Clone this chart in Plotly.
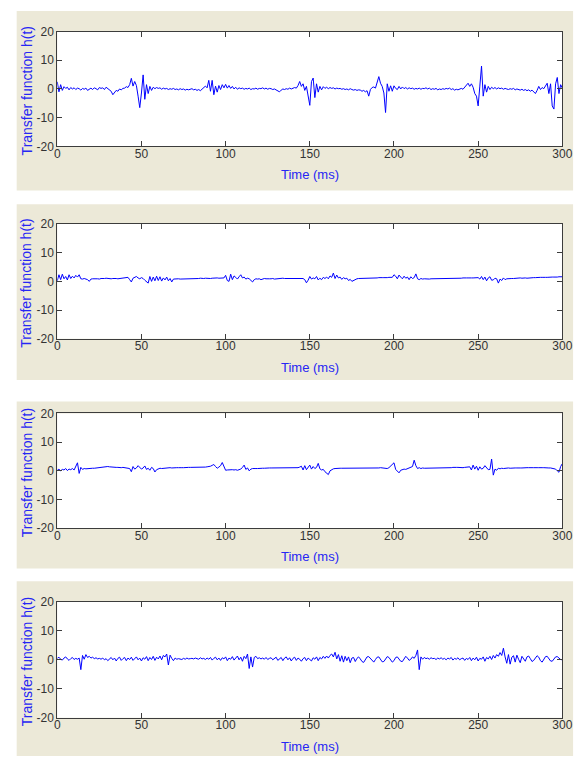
import plotly.graph_objects as go

# Time axis: one sample per millisecond, 0..300 ms
dt_ms = 1.0

# Transfer function h(t) for the four channels
h1 = [
    2.5, -1.0, 1.5, -0.5, 0.8, 0.2, 0.6, -0.3, 0.5, 0.0,
    0.4, -0.2, 0.3, 0.1, -0.4, 0.2, -0.1, 0.3, -0.5, 0.0,
    0.3, -0.2, 0.4, 0.1, -0.3, 0.5, 0.2, 0.4, -0.2, 0.6,
    0.1, -0.4, -0.8, -2.0, -1.2, -0.5, -0.8, 0.0, -0.3, 0.2,
    0.3, 0.8, 0.5, 1.5, 3.7, 1.0, 2.6, 1.2, -2.5, -6.5,
    -1.4, 4.9, -3.6, 1.5, -1.6, 0.9, -0.5, 0.6, 0.1, 0.5,
    0.2, 0.4, -0.1, 0.3, 0.0, 0.2, -0.2, 0.1, -0.1, 0.2,
    -0.2, 0.0, -0.3, 0.1, -0.2, 0.0, -0.4, -0.1, -0.3, -0.2,
    0.1, -0.3, -0.1, -0.5, -0.2, -0.6, -0.1, 0.6, 1.0, 0.4,
    3.0, -0.8, 3.0, -2.0, 1.0, -1.1, 1.2, -0.2, 1.5, 0.4,
    1.6, 0.3, 1.2, 0.2, 0.9, 0.0, 0.6, -0.1, 0.4, 0.1,
    0.3, -0.1, 0.2, 0.0, 0.3, -0.2, 0.1, 0.0, 0.3, -0.1,
    0.2, 0.1, 0.4, 0.0, 0.3, -0.1, 0.2, 0.1, -0.2, 0.0,
    -0.3, -0.5, -1.0, -0.4, 0.0, -0.2, 0.1, -0.1, 0.3, 0.0,
    0.2, 0.5, 0.3, 1.2, 2.6, 0.9, 1.8, -0.5, 0.9, -2.5,
    -5.7, 2.6, 3.8, -3.0, 1.8, -1.1, 0.9, -0.3, 0.8, 0.2,
    0.6, 0.1, 0.5, 0.2, 0.4, 0.0, 0.3, 0.1, 0.2, -0.1,
    0.1, -0.2, 0.0, -0.3, 0.1, -0.2, -0.4, -0.2, -0.5, -0.3,
    -0.4, -0.8, -0.5, -1.0, -0.6, -2.5, -0.2, 0.5, 0.7, 0.3,
    2.6, 4.3, 2.0, 0.9, -1.4, -8.2, 1.8, -0.8, 1.1, -0.8,
    1.1, 0.2, -0.2, 0.9, 0.0, 0.7, 0.1, 0.5, 0.0, 0.4,
    0.1, 0.3, -0.1, 0.2, 0.0, 0.3, -0.1, 0.2, 0.1, 0.4,
    0.0, 0.3, -0.2, 0.1, -0.1, 0.2, -0.3, 0.0, -0.2, 0.1,
    -0.1, 0.2, 0.0, 0.3, -0.2, 0.1, -0.4, -0.1, -0.3, 0.0,
    0.2, -0.1, 0.5, 1.1, 2.0, 0.9, 1.8, 0.6, -1.6, -2.5,
    -5.9, 1.0, 8.0, -2.5, 1.5, -1.1, 0.9, -0.2, 0.6, 0.1,
    0.5, 0.0, 0.4, 0.1, 0.3, -0.1, 0.2, 0.0, -0.2, 0.1,
    -0.1, 0.2, -0.3, 0.0, -0.2, -0.4, -0.1, -0.5, -0.2, -0.6,
    -0.3, -0.8, -0.4, -1.0, -1.6, -0.5, 0.9, -0.2, 0.5, 0.1,
    1.1, 2.0, -1.6, 1.8, -5.9, -7.0, 1.8, 4.0, -1.6, 1.5,
    0.3,
]

h2 = [
    0.2, 2.3, 0.6, 2.5, 0.9, 1.7, 0.5, 2.3, 1.0, 1.8,
    1.2, 2.1, 1.5, 2.3, 0.9, 0.8, 1.0, 0.9, 0.6, 0.0,
    0.8, 0.9, 0.8, 0.9, 0.9, 0.8, 1.0, 0.9, 1.0, 1.1,
    1.0, 1.1, 0.9, 1.0, 1.1, 1.0, 0.9, 1.0, 1.1, 1.2,
    1.4, 1.3, 1.4, 0.6, -0.2, 1.1, 1.3, 1.7, 1.2, 0.9,
    1.3, 1.0, 0.4, 0.0, -0.6, 1.7, 0.0, 1.5, 0.2, 1.8,
    0.3, 1.6, 0.1, 1.2, 0.5, 1.5, 0.2, 1.0, -0.2, 0.8,
    0.9, 1.0, 0.9, 0.8, 0.8, 0.9, 0.8, 0.9, 0.9, 1.0,
    0.9, 1.0, 1.0, 0.9, 1.0, 1.1, 1.0, 1.0, 1.1, 1.0,
    1.1, 1.0, 1.1, 1.2, 1.1, 1.2, 1.1, 1.2, 1.3, 1.2,
    2.1, 0.3, 0.0, 2.5, 0.6, 1.9, 1.4, 0.8, 1.6, 2.3,
    1.2, 1.5, 0.8, 1.1, 0.9, 0.2, -0.2, 0.6, 0.9, 0.8,
    0.9, 0.6, 0.8, 1.0, 0.9, 0.8, 0.9, 0.9, 1.0, 0.8,
    0.9, 1.0, 0.9, 1.0, 1.1, 1.0, 1.0, 0.9, 1.0, 1.1,
    1.0, 1.1, 1.0, 1.1, 1.0, 0.9, 1.0, 0.6, -0.5, 0.4,
    1.7, 0.8, 1.2, 0.9, 1.7, 0.5, 1.1, 0.6, 1.4, 1.0,
    1.5, 0.9, 1.9, 1.4, 2.9, 1.0, 2.2, 1.2, 1.5, 0.7,
    1.3, 0.9, 1.1, 0.3, 0.7, 0.0, 0.3, 0.8, 0.9, 1.0,
    1.0, 1.1, 1.0, 1.1, 1.1, 1.2, 1.1, 1.2, 1.2, 1.1,
    1.2, 1.3, 1.2, 1.3, 1.3, 1.2, 1.3, 1.4, 1.3, 1.4,
    2.3, 1.8, 0.9, 2.2, 1.5, 0.9, 1.8, 1.1, 1.5, 0.6,
    1.6, 1.0, 1.3, 2.6, 0.9, 0.6, 1.0, 0.8, 0.9, 0.8,
    0.9, 0.8, 0.9, 0.9, 1.0, 0.9, 0.9, 1.0, 0.9, 1.0,
    1.0, 1.0, 1.1, 1.0, 1.0, 1.1, 1.1, 1.0, 1.1, 1.1,
    1.1, 1.2, 1.1, 1.2, 1.2, 1.1, 1.2, 1.2, 1.3, 1.2,
    1.3, 0.8, 1.7, 0.6, 1.5, 0.2, 1.2, 1.6, 0.4, 0.5,
    1.1, 0.9, -0.6, 0.8, 0.3, 1.2, 0.6, 0.9, 1.0, 0.9,
    1.0, 1.0, 1.1, 1.0, 1.1, 1.2, 1.1, 1.2, 1.2, 1.1,
    1.2, 1.3, 1.2, 1.3, 1.3, 1.4, 1.3, 1.4, 1.4, 1.3,
    1.4, 1.4, 1.5, 1.4, 1.5, 1.5, 1.4, 1.5, 1.6, 1.5,
    1.6,
]

h3 = [
    0.2, 0.6, 0.0, 0.5, 0.3, 0.8, 0.1, 0.6, 0.4, 0.8,
    0.3, 1.6, 2.8, -0.9, 1.2, 0.5, 0.8, 0.7, 0.8, 0.8,
    0.8, 0.9, 0.9, 1.0, 1.1, 1.1, 1.2, 1.3, 1.5, 1.6,
    1.5, 1.4, 1.3, 1.4, 1.3, 1.2, 1.2, 1.1, 1.1, 1.2,
    1.1, 1.2, 1.1, 0.8, -0.3, 1.5, 0.6, 1.0, 1.8, 1.3,
    0.6, 1.0, 1.7, 0.5, 0.9, 0.2, 1.2, 0.8, -0.4, 0.4,
    0.6, 0.9, 0.8, 0.9, 1.0, 0.9, 1.0, 1.1, 1.0, 1.1,
    1.0, 1.1, 1.1, 1.0, 1.1, 1.1, 1.2, 1.1, 1.2, 1.2,
    1.2, 1.1, 1.2, 1.3, 1.2, 1.3, 1.3, 1.2, 1.3, 1.4,
    1.4, 1.6, 1.9, 2.2, 1.5, 0.9, 1.3, 1.8, 2.9, 1.5,
    0.2, 0.3, 0.4, 0.5, 0.4, 0.3, 0.4, 0.2, 0.4, 0.6,
    1.2, 2.0, 0.5, 1.0, 0.0, 0.6, 0.8, 0.7, 0.8, 0.8,
    0.9, 0.8, 0.9, 0.9, 1.0, 0.9, 1.0, 1.0, 1.0, 1.1,
    1.0, 1.1, 1.1, 1.0, 1.1, 1.1, 1.2, 1.1, 1.1, 1.2,
    1.1, 1.2, 1.2, 1.1, 1.3, 1.6, 0.3, 1.8, 0.4, 1.2,
    2.0, 0.6, 1.5, 0.8, 1.2, 2.6, 0.7, 0.3, 0.5, -0.3,
    -0.8, -1.3, 0.0, 0.4, 0.7, 0.8, 0.9, 0.8, 0.9, 0.9,
    0.9, 0.8, 0.9, 0.9, 0.8, 0.9, 0.9, 0.9, 1.0, 0.9,
    0.9, 1.0, 0.9, 1.0, 1.0, 0.9, 1.0, 1.0, 0.9, 1.0,
    1.0, 1.0, 1.1, 1.0, 1.0, 0.9, 0.8, 1.1, 1.6, 2.1,
    2.8, 0.5, -0.2, -0.7, 0.2, 0.4, 0.6, 0.5, 0.7, 0.9,
    1.2, 1.5, 3.7, 1.8, 0.8, 1.1, 0.8, 1.0, 0.9, 0.9,
    0.9, 1.0, 0.9, 0.9, 1.0, 1.0, 0.9, 1.0, 1.0, 1.1,
    1.0, 1.1, 1.1, 1.0, 1.1, 1.2, 1.1, 1.2, 1.2, 1.1,
    1.2, 1.1, 1.2, 1.3, 1.2, 1.4, 0.3, 2.0, 0.6, 1.6,
    0.2, 1.4, 0.6, 0.9, 1.8, 1.2, 0.4, 0.5, 4.1, -1.5,
    0.6, 0.2, 0.9, 0.7, 0.9, 0.8, 0.9, 0.9, 1.0, 0.9,
    1.0, 0.9, 1.0, 1.0, 1.1, 1.0, 1.0, 1.1, 1.0, 1.1,
    1.1, 1.0, 1.1, 1.1, 1.0, 1.1, 1.1, 1.2, 1.1, 1.1,
    1.0, 1.1, 1.0, 1.0, 0.9, 0.9, 0.6, 0.0, -0.5, 1.5,
    2.5,
]

h4 = [
    0.5, 0.9, 0.2, -0.1, 0.6, 1.0, 0.3, -0.2, 0.4, 0.8,
    0.1, 0.5, 0.2, 0.6, -3.4, 1.5, 0.2, 1.8, 0.8, 1.2,
    0.6, 0.9, 0.4, 0.7, 0.3, 0.5, 0.2, 0.6, 0.0, 0.4,
    -0.3, 0.3, 0.8, 0.0, 0.6, -0.4, 0.5, 0.9, -0.2, 0.4,
    0.8, -0.3, 0.6, 0.1, 0.9, -0.2, 0.5, 1.0, 0.0, 0.6,
    -0.4, 0.7, 0.2, 1.1, -0.3, 0.8, 0.1, 1.2, -0.2, 0.9,
    0.3, 1.3, 0.0, 1.5, 1.0, 2.0, -1.8, 1.6, 0.5, -0.3,
    0.6, 0.2, 0.4, 0.3, 0.1, 0.5, 0.2, 0.6, 0.3, 0.4,
    0.5, 0.3, 0.6, 0.4, 0.2, 0.7, 0.3, 0.5, 0.1, 0.6,
    0.2, 0.8, -0.1, 0.5, 0.9, 0.0, 0.6, -0.2, 0.7, 0.3,
    1.0, -0.3, 0.6, 0.2, 1.1, -0.1, 0.8, 1.3, 0.0, 0.9,
    -0.5, 1.2, 0.4, 2.0, -3.0, 1.0, -2.5, 0.8, 1.2, 0.4,
    0.7, 0.3, 0.6, 0.2, 0.8, 0.1, 0.5, 0.7, 0.0, 0.6,
    0.9, -0.2, 0.5, 0.8, -0.3, 0.6, 1.0, 0.0, 0.7, -0.4,
    0.5, 0.9, -0.2, 0.6, 0.2, -0.5, 0.4, 0.8, -0.3, 0.6,
    0.1, -0.4, 0.7, 0.2, 1.0, -0.3, 0.8, 0.3, 1.2, 0.5,
    1.3, 0.6, 1.5, 2.0, 1.0, 2.6, 0.3, 1.8, -0.5, 1.4,
    -0.8, 1.2, -0.3, 1.0, -1.0, 0.6, 0.8, -0.6, 0.5, 1.0,
    0.3, -0.6, -0.9, 0.2, 1.0, 1.1, 0.4, -0.5, -0.8, 0.1,
    0.9, 1.0, 0.2, -0.7, -0.6, 0.3, 1.1, 0.8, -0.2, -0.8,
    -0.3, 0.8, 1.0, 0.4, -0.5, -0.6, 0.5, 1.2, 0.6, -0.2,
    0.2, 1.0, 0.5, 1.5, 3.4, -3.4, 1.0, 0.2, 0.8, 0.4,
    0.6, 0.2, 0.7, 0.4, 0.5, 0.1, 0.6, 0.3, 0.7, 0.2,
    0.5, 0.0, 0.6, 0.3, 0.8, -0.1, 0.5, 0.2, 0.7, 0.0,
    0.4, 0.6, -0.2, 0.5, 0.1, 0.8, -0.3, 0.6, 0.0, 0.9,
    -0.4, 0.5, 0.2, 1.0, -0.5, 0.8, 0.3, 1.2, 0.1, 1.5,
    0.6, 1.8, 1.2, 2.5, 1.5, 4.0, 1.0, -1.2, 1.8, -1.5,
    0.9, 1.4, -0.8, 1.6, 0.2, -1.0, 1.2, 0.5, -0.5, 1.0,
    1.3, 0.4, -0.6, -0.2, 0.8, 1.4, 0.9, -0.3, -0.8, 0.2,
    1.1, 1.2, 0.5, -0.4, -0.5, 0.3, 1.0, 1.1, 0.4, 0.1,
    0.0,
]

series = [h1, h2, h3, h4]

x_ticks = [0, 50, 100, 150, 200, 250, 300]
y_ticks = [-20, -10, 0, 10, 20]
x_title = "Time (ms)"
y_title = "Transfer function h(t)"

# ---- page geometry (pixels) ----
W, H = 587, 763
ax_left, ax_right = 55.5, 572.0
# (axes top, axes bottom) for each panel
ax_rows = [(25, 142), (221, 338), (414, 531), (606, 724)]
# beige figure panels (top, bottom)
fig_rows = [(4, 187), (201, 380), (402, 572), (585, 763)]
fig_left, fig_right = 14, 583

BEIGE = "#ECE9D8"
TITLE_BLUE = "#2626f4"
LINE_BLUE = "#0000ff"
AXIS_GREY = "#3c3c3c"
TICK_FONT = dict(family="Liberation Sans, Arial, sans-serif", size=12, color="#333333")
YTITLE_FONT = dict(family="Liberation Sans, Arial, sans-serif", size=14, color=TITLE_BLUE)
XTITLE_FONT = dict(family="Liberation Sans, Arial, sans-serif", size=13, color=TITLE_BLUE)


def px(x):
    return x / W


def py(y):
    return 1 - y / H


fig = go.Figure()
shapes = []
annotations = []

for i, h in enumerate(series):
    k = "" if i == 0 else str(i + 1)
    t = [j * dt_ms for j in range(len(h))]
    fig.add_trace(go.Scatter(
        x=t, y=h, mode="lines",
        line=dict(color=LINE_BLUE, width=1),
        xaxis="x" + k, yaxis="y" + k,
        showlegend=False, hoverinfo="skip",
    ))

    top, bot = ax_rows[i]
    axis_common = dict(
        showline=True, linecolor=AXIS_GREY, linewidth=1, mirror="ticks",
        ticks="inside", ticklen=5, tickcolor=AXIS_GREY, tickwidth=1,
        showgrid=False, zeroline=False, tickfont=TICK_FONT, fixedrange=True,
    )
    fig.update_layout(**{
        "xaxis" + k: dict(
            domain=[px(ax_left), px(ax_right)], range=[0, 300],
            tickvals=x_ticks, ticktext=[str(v) for v in x_ticks],
            ticklabelstandoff=-4,
            anchor="y" + k, **axis_common),
        "yaxis" + k: dict(
            domain=[py(bot), py(top)], range=[-20, 20],
            tickvals=y_ticks, ticktext=[str(v) for v in y_ticks],
            anchor="x" + k, **axis_common),
    })

    # beige figure panel, then white axes area on top of it
    ftop, fbot = fig_rows[i]
    shapes.append(dict(type="rect", xref="paper", yref="paper", layer="below",
                       x0=px(fig_left), x1=px(fig_right), y0=py(fbot), y1=py(ftop),
                       fillcolor=BEIGE, line=dict(width=0)))
    shapes.append(dict(type="rect", xref="paper", yref="paper", layer="below",
                       x0=px(ax_left), x1=px(ax_right), y0=py(bot), y1=py(top),
                       fillcolor="white", line=dict(width=0)))

    annotations.append(dict(
        text=y_title, textangle=-90, showarrow=False, font=YTITLE_FONT,
        xref="paper", yref="paper", x=px(24), y=py((top + bot) / 2 + 2),
        xanchor="center", yanchor="middle"))
    annotations.append(dict(
        text=x_title, showarrow=False, font=XTITLE_FONT,
        xref="paper", yref="paper", x=px((ax_left + ax_right) / 2), y=py(bot + 29),
        xanchor="center", yanchor="middle"))

fig.update_layout(
    width=W, height=H,
    margin=dict(l=0, r=0, t=0, b=0),
    paper_bgcolor="white", plot_bgcolor="rgba(0,0,0,0)",
    shapes=shapes, annotations=annotations,
)

fig.write_html("out.html", config={"displayModeBar": False})
